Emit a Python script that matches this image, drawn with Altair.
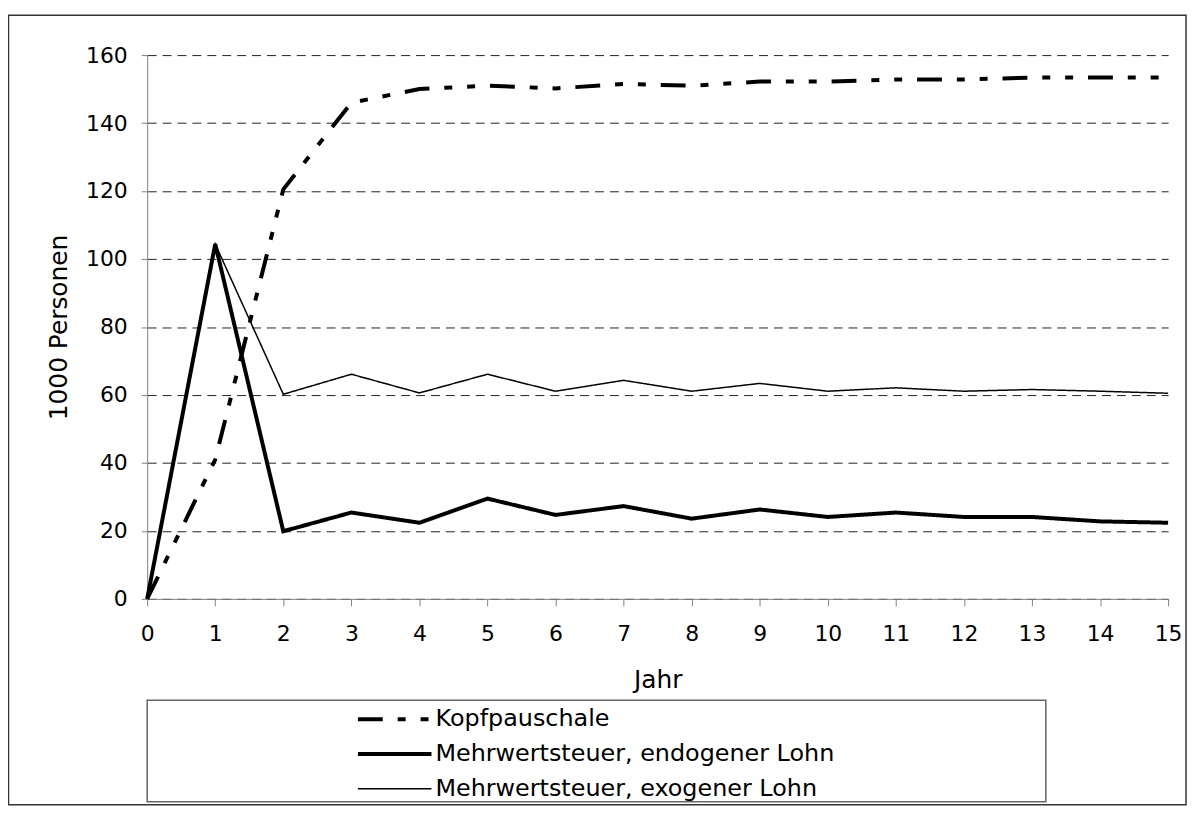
import altair as alt
import pandas as pd

years = list(range(16))
kopfpauschale = [0, 41, 120.5, 146, 150, 151, 150.2, 151.5, 151, 152.2, 152.2, 152.8, 152.8, 153.4, 153.4, 153.4]
mwst_endogen = [0, 104.4, 19.9, 25.4, 22.4, 29.5, 24.7, 27.3, 23.6, 26.3, 24.1, 25.4, 24.1, 24.1, 22.8, 22.4]
mwst_exogen = [0, 104.4, 60.2, 66.1, 60.6, 66.1, 61.1, 64.3, 61.1, 63.4, 61.1, 62.1, 61.1, 61.6, 61.1, 60.5]
series_names = ["Kopfpauschale", "Mehrwertsteuer, endogener Lohn", "Mehrwertsteuer, exogener Lohn"]
x_ticks = list(range(16))
y_ticks = list(range(0, 161, 20))

rows = []
for name, vals in zip(series_names, [kopfpauschale, mwst_endogen, mwst_exogen]):
    for yr, v in zip(years, vals):
        rows.append({"Jahr": yr, "Wert": v, "Serie": name})
df = pd.DataFrame(rows)

FONT = "DejaVu Sans"
W, H = 1027, 547

lines = alt.Chart(df).mark_line(strokeCap="butt").encode(
    x=alt.X("Jahr:Q",
            scale=alt.Scale(domain=[0, 15], nice=False, zero=True),
            axis=alt.Axis(values=x_ticks, title="Jahr", grid=False,
                          tickSize=7, labelPadding=18, labelFlush=False,
                          titleY=81, titleBaseline="middle", titleAnchor="middle",
                          titleFontSize=25)),
    y=alt.Y("Wert:Q",
            scale=alt.Scale(domain=[0, 160], nice=False),
            axis=alt.Axis(values=y_ticks, title="1000 Personen", grid=True,
                          gridDash=[9, 6], gridColor="#222", gridWidth=1,
                          tickSize=6, labelPadding=14,
                          titleX=-89, titleY=H / 2, titleAngle=270,
                          titleBaseline="middle", titleAlign="center",
                          titleFontSize=25)),
    color=alt.Color("Serie:N",
                    scale=alt.Scale(domain=series_names, range=["#000000", "#000000", "#000000"]),
                    legend=alt.Legend(title=None)),
    strokeDash=alt.StrokeDash("Serie:N",
                              scale=alt.Scale(domain=series_names,
                                              range=[[25, 15, 8, 15, 8, 15], [1, 0], [1, 0]]),
                              legend=alt.Legend(title=None)),
    strokeWidth=alt.StrokeWidth("Serie:N",
                                scale=alt.Scale(type="ordinal", domain=series_names, range=[4, 4, 1.5]),
                                legend=alt.Legend(title=None)),
    order=alt.Order("Jahr:Q"),
)

deco = alt.Data(values=[{"k": 1}])
legend_box = alt.Chart(deco).mark_rect(fillOpacity=0, stroke="#666", strokeWidth=1.5).encode(
    x=alt.value(0), x2=alt.value(904), y=alt.value(649), y2=alt.value(751)
)
outer_box = alt.Chart(deco).mark_rect(fillOpacity=0, stroke="#333", strokeWidth=1.5).encode(
    x=alt.value(-139.5), x2=alt.value(1045), y=alt.value(-40), y2=alt.value(754)
)

chart = alt.layer(outer_box, legend_box, lines).properties(
    width=W, height=H,
    autosize=alt.AutoSizeParams(type="none"),
    padding={"left": 140, "top": 45, "right": 20, "bottom": 208},
).configure_view(stroke=None).configure_axis(
    domainColor="#808080", tickColor="#808080", domainWidth=1, tickWidth=1,
    labelFont=FONT, labelFontSize=22, labelColor="#000",
    titleFont=FONT, titleColor="#000", titleFontWeight="normal",
).configure_legend(
    orient="none", legendX=210, legendY=650.5, padding=0, rowPadding=0,
    clipHeight=35, symbolType="stroke", symbolSize=5476,
    labelFont=FONT, labelFontSize=24, labelColor="#000", labelOffset=2, labelLimit=0,
    symbolStrokeColor="#000",
)

chart.save("out.html", embed_options={"renderer": "svg", "actions": False})
